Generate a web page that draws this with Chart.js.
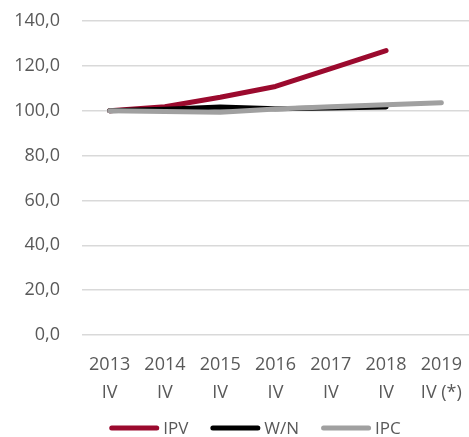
<!DOCTYPE html>
<html><head><meta charset="utf-8">
<script src="https://cdn.jsdelivr.net/npm/chart.js@4.4.0/dist/chart.umd.min.js"></script>
<style>html,body{margin:0;padding:0;background:#fff}#wrap{width:469px;height:437px}</style>
</head><body><div id="wrap"><canvas id="c" width="469" height="437"></canvas></div>
<script>
const categories = [["2013","IV"],["2014","IV"],["2015","IV"],["2016","IV"],["2017","IV"],["2018","IV"],["2019","IV (*)"]];
const ipv = [100, 101.8, 106.0, 110.8, 118.8, 126.8, null];
const wn  = [100, 100.6, 101.7, 100.9, 101.2, 101.7, null];
const ipc = [100, 99.7, 99.3, 100.8, 101.8, 102.7, 103.6];
const yTicks = [0, 20, 40, 60, 80, 100, 120, 140];
const FONT = "'Open Sans', sans-serif";
const TXT = '#595959';

const bottomLegend = {
  id:'bottomLegend',
  afterDraw(chart){
    const ctx = chart.ctx;
    const ds = chart.data.datasets;
    ctx.save();
    ctx.font = "17px " + FONT;
    const boxW = 50, gapT = 4, gapI = 22;
    const widths = ds.map(d => boxW + gapT + ctx.measureText(d.label).width);
    const total = widths.reduce((a,b)=>a+b,0) + gapI*(ds.length-1);
    let x = 255 - total/2;
    const y = 428;
    ds.forEach((d,i) => {
      ctx.strokeStyle = d.borderColor; ctx.lineWidth = 5; ctx.lineCap = 'round';
      ctx.beginPath(); ctx.moveTo(x+2.5, y); ctx.lineTo(x+boxW-2.5, y); ctx.stroke();
      ctx.fillStyle = TXT; ctx.textBaseline = 'middle'; ctx.textAlign='left';
      ctx.fillText(d.label, x+boxW+gapT, y+1);
      x += widths[i] + gapI;
    });
    ctx.restore();
  }
};

new Chart(document.getElementById('c'), {
  type: 'line',
  data: {
    labels: categories,
    datasets: [
      {label:'IPV', data: ipv, borderColor:'#9B0A2E', backgroundColor:'#9B0A2E', order:2},
      {label:'W/N', data: wn, borderColor:'#000000', backgroundColor:'#000000', order:1},
      {label:'IPC', data: ipc, borderColor:'#A0A0A0', backgroundColor:'#A0A0A0', order:0}
    ].map(d => Object.assign(d, {borderWidth:5, pointRadius:0, tension:0, borderCapStyle:'round', borderJoinStyle:'round', spanGaps:false}))
  },
  plugins:[bottomLegend],
  options: {
    responsive:false, animation:false,
    layout:{padding:{left:0,right:0,top:21,bottom:32}},
    plugins:{
      legend:{display:false},
      tooltip:{enabled:false}
    },
    scales:{
      x:{offset:true, grid:{display:false}, border:{display:false},
         ticks:{color:TXT, font:{family:FONT, size:18, lineHeight:1.55}, maxRotation:0, padding:8},
         afterFit: s => { s.height = 70; s.paddingLeft = 0; s.paddingRight = 0; }},
      y:{min:0, max:140, border:{display:false},
         grid:{color:'#D9D9D9', lineWidth:1.5, drawTicks:false},
         afterBuildTicks: s => { s.ticks = yTicks.map(v => ({value:v})); },
         ticks:{color:TXT, font:{family:FONT, size:18}, padding:22,
           callback: v => v.toFixed(1).replace('.', ',')},
         afterFit: s => { s.width = 82; s.paddingTop = 0; s.paddingBottom = 0; }}
    }
  }
});
</script></body></html>
